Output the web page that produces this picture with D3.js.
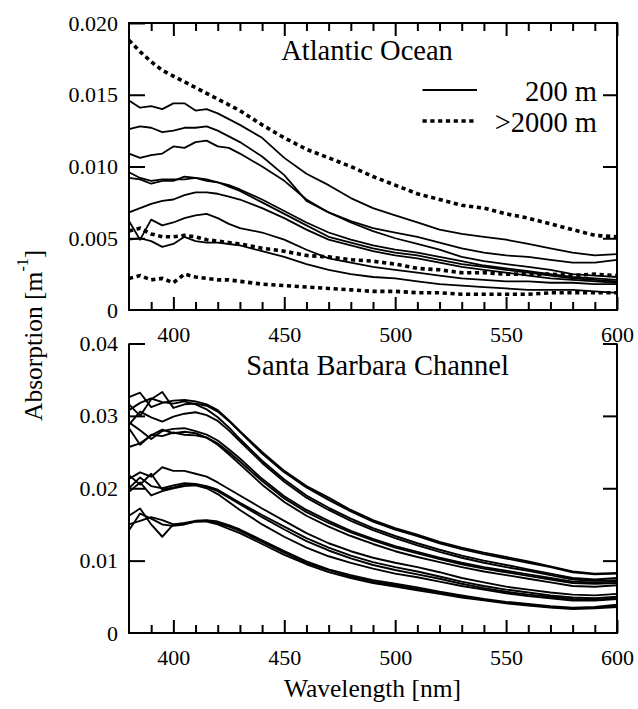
<!DOCTYPE html>
<html>
<head>
<meta charset="utf-8">
<script src="https://cdn.jsdelivr.net/npm/d3@7"></script>
<style>
  html, body { margin: 0; padding: 0; background: #fff; }
  svg { display: block; }
</style>
</head>
<body>
<svg id="chart" width="638" height="709"></svg>
<script>
// ---------------- DATA ----------------
const wavelengths = [380,385,390,395,400,405,410,415,420,425,430,440,450,460,470,480,490,500,510,520,530,540,550,560,570,580,590,600];

// Atlantic Ocean, 200 m (solid)
const atl200_1 = [0.0146,0.0141,0.0142,0.0140,0.0144,0.0144,0.0139,0.0140,0.0137,0.0133,0.0129,0.0120,0.0106,0.0095,0.0087,0.0078,0.0071,0.0066,0.0061,0.0056,0.0053,0.0051,0.0049,0.0046,0.0043,0.0040,0.0038,0.0039];
const atl200_2 = [0.0126,0.0128,0.0127,0.0124,0.0125,0.0127,0.0127,0.0128,0.0125,0.0121,0.0117,0.0107,0.0094,0.0076,0.0068,0.0062,0.0057,0.0054,0.0051,0.0047,0.0043,0.0040,0.0038,0.0037,0.0035,0.0033,0.0033,0.0035];
const atl200_3 = [0.0109,0.0106,0.0108,0.0109,0.0114,0.0113,0.0117,0.0118,0.0114,0.0113,0.0109,0.0100,0.0090,0.0077,0.0068,0.0061,0.0055,0.0050,0.0046,0.0042,0.0037,0.0034,0.0032,0.0030,0.0028,0.0025,0.0024,0.0023];
const atl200_4 = [0.0096,0.0092,0.0090,0.0091,0.0091,0.0091,0.0092,0.0091,0.0089,0.0087,0.0084,0.0077,0.0069,0.0061,0.0054,0.0049,0.0045,0.0042,0.0040,0.0037,0.0034,0.0031,0.0029,0.0027,0.0025,0.0023,0.0022,0.0021];
const atl200_5 = [0.0092,0.0091,0.0088,0.0090,0.0090,0.0093,0.0092,0.0090,0.0089,0.0086,0.0083,0.0075,0.0067,0.0059,0.0051,0.0047,0.0043,0.0040,0.0038,0.0035,0.0032,0.0030,0.0028,0.0026,0.0024,0.0022,0.0021,0.0020];
const atl200_6 = [0.0068,0.0071,0.0074,0.0076,0.0077,0.0080,0.0082,0.0082,0.0081,0.0079,0.0077,0.0071,0.0064,0.0056,0.0049,0.0045,0.0041,0.0038,0.0036,0.0033,0.0030,0.0028,0.0026,0.0024,0.0022,0.0021,0.0020,0.0019];
const atl200_7 = [0.0062,0.0049,0.0063,0.0059,0.0061,0.0064,0.0066,0.0067,0.0064,0.0060,0.0057,0.0054,0.0049,0.0042,0.0036,0.0033,0.0030,0.0028,0.0026,0.0024,0.0022,0.0021,0.0020,0.0020,0.0019,0.0019,0.0018,0.0018];
const atl200_8 = [0.0049,0.0050,0.0048,0.0044,0.0046,0.0051,0.0048,0.0047,0.0047,0.0046,0.0045,0.0041,0.0037,0.0032,0.0028,0.0025,0.0023,0.0022,0.0020,0.0018,0.0017,0.0016,0.0015,0.0014,0.0014,0.0014,0.0013,0.0012];

// Atlantic Ocean, >2000 m (dotted)
const atl2000_1 = [0.0188,0.0180,0.0173,0.0167,0.0163,0.0159,0.0155,0.0151,0.0147,0.0143,0.0139,0.0129,0.0120,0.0112,0.0106,0.0100,0.0093,0.0087,0.0081,0.0077,0.0073,0.0071,0.0067,0.0064,0.0060,0.0056,0.0052,0.0051];
const atl2000_2 = [0.0055,0.0057,0.0053,0.0051,0.0051,0.0052,0.0051,0.0049,0.0048,0.0047,0.0046,0.0043,0.0041,0.0038,0.0037,0.0035,0.0034,0.0032,0.0029,0.0028,0.0026,0.0026,0.0025,0.0025,0.0025,0.0024,0.0025,0.0024];
const atl2000_3 = [0.0022,0.0024,0.0021,0.0022,0.0019,0.0025,0.0023,0.0022,0.0021,0.0021,0.0020,0.0018,0.0017,0.0016,0.0015,0.0014,0.0013,0.0013,0.0012,0.0012,0.0011,0.0011,0.0011,0.0011,0.0012,0.0012,0.0012,0.0012];

// Santa Barbara Channel
const sbc_1  = [0.0326,0.0332,0.0312,0.0318,0.0321,0.0322,0.0320,0.0316,0.0308,0.0294,0.0279,0.0250,0.0224,0.0203,0.0187,0.0170,0.0156,0.0145,0.0136,0.0126,0.0118,0.0111,0.0105,0.0099,0.0092,0.0085,0.0082,0.0083];
const sbc_2  = [0.0316,0.0300,0.0323,0.0333,0.0311,0.0316,0.0317,0.0314,0.0306,0.0293,0.0278,0.0248,0.0222,0.0201,0.0184,0.0168,0.0154,0.0143,0.0134,0.0124,0.0116,0.0109,0.0103,0.0097,0.0091,0.0084,0.0081,0.0082];
const sbc_3  = [0.0308,0.0318,0.0324,0.0319,0.0317,0.0320,0.0316,0.0309,0.0298,0.0284,0.0268,0.0238,0.0212,0.0190,0.0173,0.0158,0.0145,0.0134,0.0124,0.0115,0.0107,0.0100,0.0094,0.0088,0.0082,0.0076,0.0074,0.0076];
const sbc_4  = [0.0288,0.0306,0.0298,0.0292,0.0299,0.0303,0.0305,0.0301,0.0293,0.0280,0.0265,0.0235,0.0209,0.0187,0.0170,0.0155,0.0142,0.0131,0.0121,0.0112,0.0104,0.0097,0.0091,0.0086,0.0080,0.0074,0.0072,0.0073];
const sbc_5  = [0.0291,0.0280,0.0268,0.0279,0.0282,0.0283,0.0279,0.0274,0.0266,0.0254,0.0241,0.0213,0.0189,0.0170,0.0155,0.0141,0.0130,0.0120,0.0112,0.0104,0.0097,0.0091,0.0086,0.0081,0.0076,0.0071,0.0070,0.0071];
const sbc_6  = [0.0283,0.0260,0.0274,0.0272,0.0277,0.0274,0.0273,0.0270,0.0262,0.0250,0.0237,0.0210,0.0186,0.0167,0.0152,0.0139,0.0128,0.0118,0.0110,0.0102,0.0095,0.0089,0.0084,0.0079,0.0074,0.0069,0.0068,0.0069];
const sbc_7  = [0.0257,0.0262,0.0273,0.0281,0.0276,0.0278,0.0276,0.0270,0.0260,0.0247,0.0233,0.0205,0.0181,0.0162,0.0147,0.0134,0.0123,0.0113,0.0105,0.0098,0.0091,0.0085,0.0080,0.0075,0.0070,0.0065,0.0064,0.0066];
const sbc_8  = [0.0213,0.0222,0.0216,0.0229,0.0224,0.0224,0.0220,0.0216,0.0208,0.0199,0.0190,0.0172,0.0155,0.0138,0.0124,0.0113,0.0104,0.0097,0.0091,0.0084,0.0076,0.0070,0.0064,0.0060,0.0056,0.0053,0.0052,0.0054];
const sbc_9  = [0.0200,0.0215,0.0203,0.0200,0.0204,0.0207,0.0206,0.0203,0.0198,0.0189,0.0180,0.0163,0.0147,0.0131,0.0118,0.0107,0.0098,0.0091,0.0085,0.0078,0.0071,0.0065,0.0060,0.0056,0.0052,0.0049,0.0048,0.0050];
const sbc_10 = [0.0218,0.0205,0.0220,0.0198,0.0201,0.0205,0.0205,0.0202,0.0196,0.0187,0.0178,0.0160,0.0143,0.0127,0.0114,0.0103,0.0094,0.0087,0.0081,0.0075,0.0068,0.0062,0.0057,0.0053,0.0050,0.0047,0.0046,0.0048];
const sbc_11 = [0.0195,0.0208,0.0190,0.0196,0.0200,0.0203,0.0204,0.0200,0.0192,0.0181,0.0170,0.0150,0.0133,0.0118,0.0106,0.0097,0.0089,0.0082,0.0077,0.0071,0.0065,0.0060,0.0055,0.0051,0.0048,0.0045,0.0045,0.0047];
const sbc_12 = [0.0162,0.0172,0.0150,0.0133,0.0150,0.0152,0.0155,0.0156,0.0154,0.0149,0.0143,0.0128,0.0113,0.0099,0.0088,0.0080,0.0073,0.0068,0.0063,0.0057,0.0052,0.0047,0.0043,0.0040,0.0037,0.0035,0.0036,0.0039];
const sbc_13 = [0.0142,0.0165,0.0158,0.0150,0.0148,0.0150,0.0154,0.0155,0.0152,0.0147,0.0141,0.0126,0.0111,0.0097,0.0087,0.0078,0.0071,0.0066,0.0061,0.0056,0.0051,0.0046,0.0042,0.0039,0.0036,0.0034,0.0035,0.0037];
const sbc_14 = [0.0150,0.0155,0.0160,0.0156,0.0150,0.0151,0.0154,0.0154,0.0150,0.0144,0.0138,0.0123,0.0108,0.0095,0.0084,0.0076,0.0069,0.0064,0.0059,0.0054,0.0049,0.0045,0.0041,0.0038,0.0035,0.0033,0.0034,0.0036];

const xTicksMajor = [400,450,500,550,600];
const xTicksMinor = [390,410,420,430,440,460,470,480,490,510,520,530,540,560,570,580,590];
const yTicksTop = [0, 0.005, 0.010, 0.015, 0.020];
const yTickLabelsTop = ["0","0.005","0.010","0.015","0.020"];
const yTicksBot = [0, 0.01, 0.02, 0.03, 0.04];
const yTickLabelsBot = ["0","0.01","0.02","0.03","0.04"];
const legendLabels = ["200 m", ">2000 m"];
const titles = ["Atlantic Ocean", "Santa Barbara Channel"];

const atlSolid = [atl200_1, atl200_2, atl200_3, atl200_4, atl200_5, atl200_6, atl200_7, atl200_8];
const atlDotted = [atl2000_1, atl2000_2, atl2000_3];
const sbcSeries = [sbc_1, sbc_2, sbc_3, sbc_4, sbc_5, sbc_6, sbc_7, sbc_8, sbc_9, sbc_10, sbc_11, sbc_12, sbc_13, sbc_14];

// ---------------- LAYOUT ----------------
const SERIF = "Liberation Serif, LiberationSerif, Tinos, Noto Serif, Times New Roman, Times, Nimbus Roman, Nimbus Roman No9 L, FreeSerif, DejaVu Serif, Georgia, serif";
const svg = d3.select("#chart");
const L = 129, R = 617;
const topT = 23, topB = 310;
const botT = 343.5, botB = 633;

const x = d3.scaleLinear().domain([380, 600]).range([L, R]);
const yTop = d3.scaleLinear().domain([0, 0.02]).range([topB, topT]);
const yBot = d3.scaleLinear().domain([0, 0.04]).range([botB, botT]);

const FS = 22;
const DOT = "4.2,3.6";

function styleAxis(g) {
  g.attr("font-family", SERIF).attr("font-size", FS);
  g.selectAll("path.domain").remove();
  g.selectAll("line").attr("stroke", "#000").attr("stroke-width", 2);
  g.selectAll("text").attr("fill", "#000");
}

function drawXAxis(yPos, withTop, topPos) {
  svg.append("g").attr("transform", `translate(0,${yPos})`)
    .call(d3.axisBottom(x).tickValues(xTicksMajor).tickFormat(d3.format("d")).tickSizeInner(-13).tickSizeOuter(0).tickPadding(16))
    .call(styleAxis);
  svg.append("g").attr("transform", `translate(0,${yPos})`)
    .call(d3.axisBottom(x).tickValues(xTicksMinor).tickFormat("").tickSizeInner(-8).tickSizeOuter(0))
    .call(styleAxis);
  if (withTop) {
    svg.append("g").attr("transform", `translate(0,${topPos})`)
      .call(d3.axisTop(x).tickValues(xTicksMajor).tickFormat("").tickSizeInner(-13).tickSizeOuter(0))
      .call(styleAxis);
    svg.append("g").attr("transform", `translate(0,${topPos})`)
      .call(d3.axisTop(x).tickValues(xTicksMinor).tickFormat("").tickSizeInner(-8).tickSizeOuter(0))
      .call(styleAxis);
  }
}

function drawYAxis(scale, vals, labels, rightVals) {
  svg.append("g").attr("transform", `translate(${L},0)`)
    .call(d3.axisLeft(scale).tickValues(vals).tickFormat((d, i) => labels[i]).tickSizeInner(-16).tickSizeOuter(0).tickPadding(11))
    .call(styleAxis)
    .call(g => g.selectAll(".tick").filter(d => d === 0).select("line").remove());
  svg.append("g").attr("transform", `translate(${R},0)`)
    .call(d3.axisRight(scale).tickValues(rightVals).tickFormat("").tickSizeInner(-14).tickSizeOuter(0))
    .call(styleAxis);
}

function txt(xp, yp, anchor, size, s) {
  return svg.append("text").attr("x", xp).attr("y", yp).attr("text-anchor", anchor)
    .attr("font-family", SERIF).attr("font-size", size).attr("fill", "#000").text(s);
}

// ---------------- TOP PANEL ----------------
const lineTop = d3.line().x((d, i) => x(wavelengths[i])).y(d => yTop(d));
const gTop = svg.append("g");
atlSolid.forEach(s => {
  gTop.append("path").attr("d", lineTop(s)).attr("fill", "none").attr("stroke", "#000").attr("stroke-width", 1.8).attr("stroke-linejoin", "round");
});
atlDotted.forEach(s => {
  gTop.append("path").attr("d", lineTop(s)).attr("fill", "none").attr("stroke", "#000").attr("stroke-width", 3.6).attr("stroke-dasharray", DOT);
});

svg.append("rect").attr("x", L).attr("y", topT).attr("width", R - L).attr("height", topB - topT)
  .attr("fill", "none").attr("stroke", "#000").attr("stroke-width", 2);
drawXAxis(topB, true, topT);
drawYAxis(yTop, yTicksTop, yTickLabelsTop, [0.005, 0.010, 0.015]);

txt(367, 60, "middle", 28.5, titles[0]);

// legend
svg.append("line").attr("x1", 422.5).attr("x2", 477).attr("y1", 90).attr("y2", 90).attr("stroke", "#000").attr("stroke-width", 2);
svg.append("line").attr("x1", 422.5).attr("x2", 477).attr("y1", 121).attr("y2", 121).attr("stroke", "#000").attr("stroke-width", 3.6).attr("stroke-dasharray", DOT);
txt(597, 101, "end", 28.5, legendLabels[0]);
txt(597, 131.5, "end", 28.5, legendLabels[1]);

// ---------------- BOTTOM PANEL ----------------
const lineBot = d3.line().x((d, i) => x(wavelengths[i])).y(d => yBot(d));
const gBot = svg.append("g");
sbcSeries.forEach(s => {
  gBot.append("path").attr("d", lineBot(s)).attr("fill", "none").attr("stroke", "#000").attr("stroke-width", 1.9).attr("stroke-linejoin", "round");
});

svg.append("line").attr("x1", L).attr("x2", L).attr("y1", botT).attr("y2", botB).attr("stroke", "#000").attr("stroke-width", 2);
svg.append("line").attr("x1", R).attr("x2", R).attr("y1", botT).attr("y2", botB).attr("stroke", "#000").attr("stroke-width", 2);
svg.append("line").attr("x1", L - 1).attr("x2", R + 1).attr("y1", botB).attr("y2", botB).attr("stroke", "#000").attr("stroke-width", 2);
drawXAxis(botB, false);
drawYAxis(yBot, yTicksBot, yTickLabelsBot, [0.01, 0.02, 0.03, 0.04]);

txt(377.5, 375, "middle", 28.5, titles[1]);

// ---------------- AXIS TITLES ----------------
txt(372.5, 697, "middle", 25.5, "Wavelength [nm]");

const yt = svg.append("text").attr("transform", "translate(41.5,421) rotate(-90)").attr("text-anchor", "start")
  .attr("font-family", SERIF).attr("font-size", 25.5).attr("fill", "#000");
yt.append("tspan").text("Absorption [m");
yt.append("tspan").attr("dy", -14).attr("font-size", 16).text("-1");
yt.append("tspan").attr("dy", 14).text("]");
</script>
</body>
</html>
